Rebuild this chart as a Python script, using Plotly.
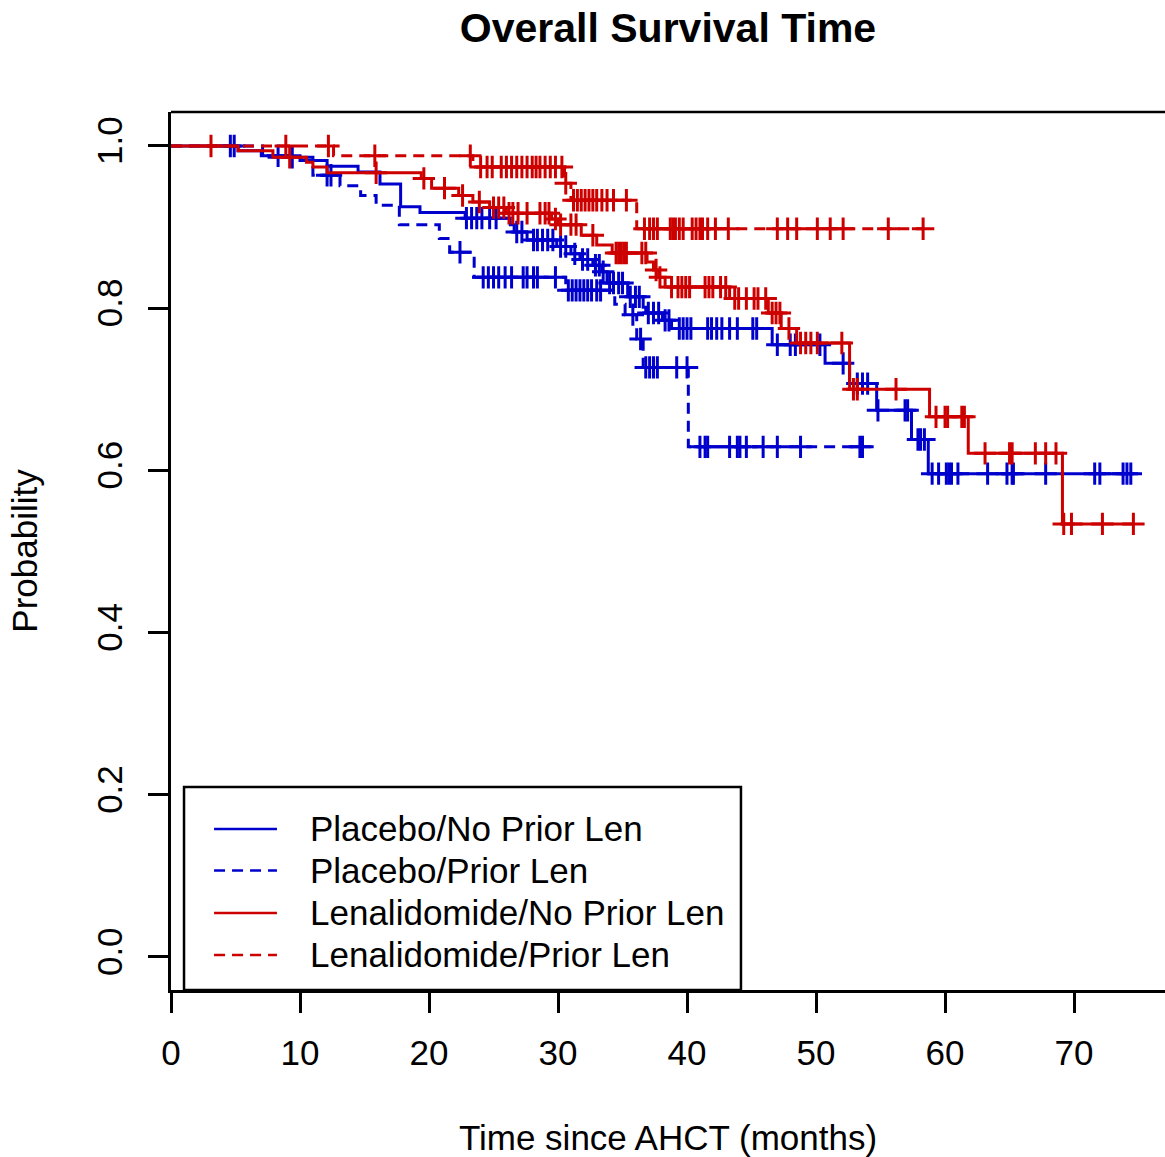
import plotly.graph_objects as go

# Kaplan-Meier estimates: event times (months), survival after each event, censoring times

# Placebo / No Prior Len
pnp_event_t = [5.2, 7.0, 10.0, 12.1, 14.5, 16.2, 17.8, 19.3, 22.8, 26.3, 26.6, 27.6, 29.9, 31.0,
               31.7, 32.7, 33.4, 33.8, 35.4, 36.6, 36.8, 38.1, 38.8, 46.6, 50.7, 52.6, 54.7, 57.4, 58.7]
pnp_event_s = [0.994, 0.988, 0.982, 0.975, 0.968, 0.953, 0.925, 0.918, 0.911, 0.903, 0.894, 0.884,
               0.876, 0.867, 0.860, 0.853, 0.845, 0.831, 0.814, 0.801, 0.794, 0.785, 0.775, 0.755,
               0.732, 0.707, 0.674, 0.638, 0.596]
pnp_censor_t = [4.6, 8.3, 22.9, 23.3, 23.7, 24.1, 24.7, 25.2, 26.8, 27.2, 28.1, 28.4, 28.8, 29.2,
                29.6, 30.2, 30.6, 31.3, 31.9, 32.3, 32.9, 33.2, 33.5, 34.0, 34.3, 34.7, 35.0, 35.6,
                36.0, 36.3, 37.0, 37.4, 37.8, 38.3, 38.6, 39.4, 39.7, 40.0, 40.3, 41.6, 41.9, 42.3,
                42.7, 43.3, 43.9, 45.1, 45.4, 47.0, 48.0, 48.4, 50.3, 52.1, 53.2, 53.6, 54.0, 54.8,
                56.9, 57.1, 57.9, 58.1, 58.4, 59.0, 59.5, 60.1, 60.3, 60.5, 61.0, 63.3, 64.8, 65.2,
                65.3, 67.8, 71.6, 72.0, 73.8, 74.1, 74.4]

# Placebo / Prior Len
pp_event_t = [7.1, 11.0, 13.1, 14.7, 15.9, 17.7, 20.8, 21.6, 23.5, 30.6, 34.4, 35.2, 36.1, 36.6, 40.1]
pp_event_s = [0.986, 0.964, 0.951, 0.939, 0.927, 0.903, 0.886, 0.869, 0.838, 0.822, 0.805, 0.792,
              0.762, 0.727, 0.629]
pp_censor_t = [4.9, 9.4, 12.1, 12.4, 22.4, 24.2, 24.6, 25.0, 25.4, 25.9, 26.4, 27.3, 27.6, 28.1,
               28.4, 29.8, 30.8, 31.1, 31.4, 31.7, 32.0, 32.3, 32.6, 33.0, 33.3, 35.8, 36.4, 36.8,
               37.1, 37.4, 37.7, 39.2, 40.0, 41.0, 41.4, 41.6, 43.3, 43.9, 44.1, 44.6, 45.9, 47.0,
               48.8, 53.4, 53.6]

# Lenalidomide / No Prior Len
lnp_event_t = [5.2, 7.9, 10.5, 11.0, 12.1, 19.4, 20.2, 22.3, 23.4, 24.7, 26.0, 29.5, 30.0, 31.8,
               33.0, 34.2, 36.9, 37.4, 37.8, 38.3, 43.3, 46.3, 47.3, 48.5, 52.6, 58.8, 61.8, 69.1]
lnp_event_s = [0.994, 0.986, 0.980, 0.974, 0.967, 0.960, 0.948, 0.939, 0.931, 0.924, 0.917, 0.910,
               0.903, 0.890, 0.878, 0.868, 0.857, 0.847, 0.838, 0.826, 0.812, 0.794, 0.775, 0.757,
               0.700, 0.666, 0.621, 0.534]
lnp_censor_t = [9.2, 15.9, 19.6, 21.2, 22.6, 23.9, 25.0, 25.4, 25.8, 26.2, 26.5, 26.9, 27.6, 28.6,
                29.0, 29.3, 29.8, 30.2, 31.0, 31.4, 32.7, 34.5, 34.7, 34.9, 35.1, 35.3, 36.5, 36.8,
                37.6, 37.9, 38.8, 39.3, 39.6, 39.9, 40.2, 41.4, 41.7, 42.0, 42.6, 43.0, 43.7, 44.0,
                44.6, 45.2, 45.5, 46.1, 46.6, 46.9, 47.2, 47.9, 48.8, 49.2, 49.6, 50.1, 52.0, 52.9,
                53.2, 56.2, 59.3, 60.0, 60.2, 61.3, 61.5, 63.1, 65.0, 65.2, 67.0, 67.8, 68.6, 69.2,
                69.8, 72.2, 74.6]

# Lenalidomide / Prior Len
lp_event_t = [12.6, 23.4, 30.5, 31.0, 36.1]
lp_event_s = [0.988, 0.974, 0.954, 0.933, 0.898]
lp_censor_t = [3.1, 8.9, 12.2, 15.8, 23.2, 24.0, 24.5, 24.9, 25.6, 26.0, 26.4, 26.8, 27.2, 27.6,
               28.0, 28.3, 28.6, 29.0, 29.4, 29.8, 30.3, 30.6, 31.2, 31.5, 31.8, 32.1, 32.4, 32.7,
               33.0, 33.4, 33.8, 34.3, 35.3, 36.7, 37.1, 37.4, 37.7, 38.7, 38.9, 39.1, 39.4, 39.7,
               40.4, 40.7, 41.0, 41.2, 41.6, 42.2, 43.2, 47.0, 47.8, 48.5, 50.1, 51.1, 52.1, 55.6,
               58.3]

group_names = ["Placebo/No Prior Len", "Placebo/Prior Len",
               "Lenalidomide/No Prior Len", "Lenalidomide/Prior Len"]

BLUE = "#0000CD"
RED = "#CD0000"
DASH = "11px,7px"
FONT = "Liberation Sans, Arial, Helvetica, sans-serif"

groups = [
    (group_names[0], pnp_event_t, pnp_event_s, pnp_censor_t, BLUE, "solid"),
    (group_names[1], pp_event_t, pp_event_s, pp_censor_t, BLUE, DASH),
    (group_names[2], lnp_event_t, lnp_event_s, lnp_censor_t, RED, "solid"),
    (group_names[3], lp_event_t, lp_event_s, lp_censor_t, RED, DASH),
]


def km_steps(ev_t, ev_s, cens_t):
    end = max(max(ev_t), max(cens_t))
    xs = [0.0] + list(ev_t) + [end]
    ys = [1.0] + list(ev_s) + [ev_s[-1]]
    return xs, ys


def surv_at(t, ev_t, ev_s):
    s = 1.0
    for et, es in zip(ev_t, ev_s):
        if et <= t:
            s = es
    return s


fig = go.Figure()
for name, ev_t, ev_s, cens_t, color, dash in groups:
    xs, ys = km_steps(ev_t, ev_s, cens_t)
    fig.add_trace(go.Scatter(
        x=xs, y=ys, mode="lines", name=name, showlegend=False,
        line=dict(color=color, width=3, dash=dash, shape="hv"),
    ))
    fig.add_trace(go.Scatter(
        x=cens_t, y=[surv_at(t, ev_t, ev_s) for t in cens_t], mode="markers",
        name=name + " (censored)", showlegend=False,
        marker=dict(symbol="cross-thin", size=16, color=color,
                    line=dict(color=color, width=3)),
    ))

# Legend drawn in paper coordinates inside the lower-left of the plot area
shapes = [
    # top border of the plotting box
    dict(type="line", xref="paper", yref="paper", x0=0, x1=1, y0=1, y1=1,
         line=dict(color="black", width=2.5)),
    # legend frame
    dict(type="rect", xref="paper", yref="paper", x0=0.0131, x1=0.5734, y0=0, y1=0.2312,
         line=dict(color="black", width=2.5), fillcolor="white", layer="above"),
]
annotations = []
legend_rows = [0.1834, 0.1360, 0.0877, 0.0399]
for (name, _, _, _, color, dash), yy in zip(groups, legend_rows):
    shapes.append(dict(type="line", xref="paper", yref="paper", x0=0.0433, x1=0.1066,
                       y0=yy, y1=yy, line=dict(color=color, width=2.5, dash=dash),
                       layer="above"))
    annotations.append(dict(xref="paper", yref="paper", x=0.1378, y=yy, text=name,
                            showarrow=False, xanchor="left", yanchor="middle",
                            font=dict(family=FONT, size=35, color="black")))

fig.update_layout(
    width=1165, height=1157, autosize=False,
    margin=dict(l=171, r=0, t=112, b=167),
    paper_bgcolor="white", plot_bgcolor="white",
    font=dict(family=FONT, size=35, color="black"),
    title=dict(text="<b>Overall Survival Time</b>", x=0.5, xref="paper", xanchor="center",
               y=1 - 28 / 1157, yref="container", yanchor="middle",
               font=dict(family=FONT, size=41, color="black")),
    shapes=shapes,
    annotations=annotations,
    showlegend=False,
)

fig.update_xaxes(
    range=[0, 77.05], showgrid=False, zeroline=False,
    showline=True, linecolor="black", linewidth=2.5,
    ticks="outside", ticklen=20, tickwidth=2.5, tickcolor="black",
    tickvals=[0, 10, 20, 30, 40, 50, 60, 70],
    tickfont=dict(family=FONT, size=35, color="black"),
    ticklabelstandoff=10,
    title=dict(text="Time since AHCT (months)", standoff=58,
               font=dict(family=FONT, size=35, color="black")),
    automargin=False,
)
fig.update_yaxes(
    range=[-0.0407, 1.0419], showgrid=False, zeroline=False,
    showline=True, linecolor="black", linewidth=2.5,
    ticks="outside", ticklen=20, tickwidth=2.5, tickcolor="black",
    tickvals=[0, 0.2, 0.4, 0.6, 0.8, 1.0],
    ticktext=["0.0", "0.2", "0.4", "0.6", "0.8", "1.0"],
    tickangle=-90,
    tickfont=dict(family=FONT, size=35, color="black"),
    ticklabelstandoff=12,
    title=dict(text="Probability", standoff=43,
               font=dict(family=FONT, size=35, color="black")),
    automargin=False,
)

fig.write_html("out.html")
